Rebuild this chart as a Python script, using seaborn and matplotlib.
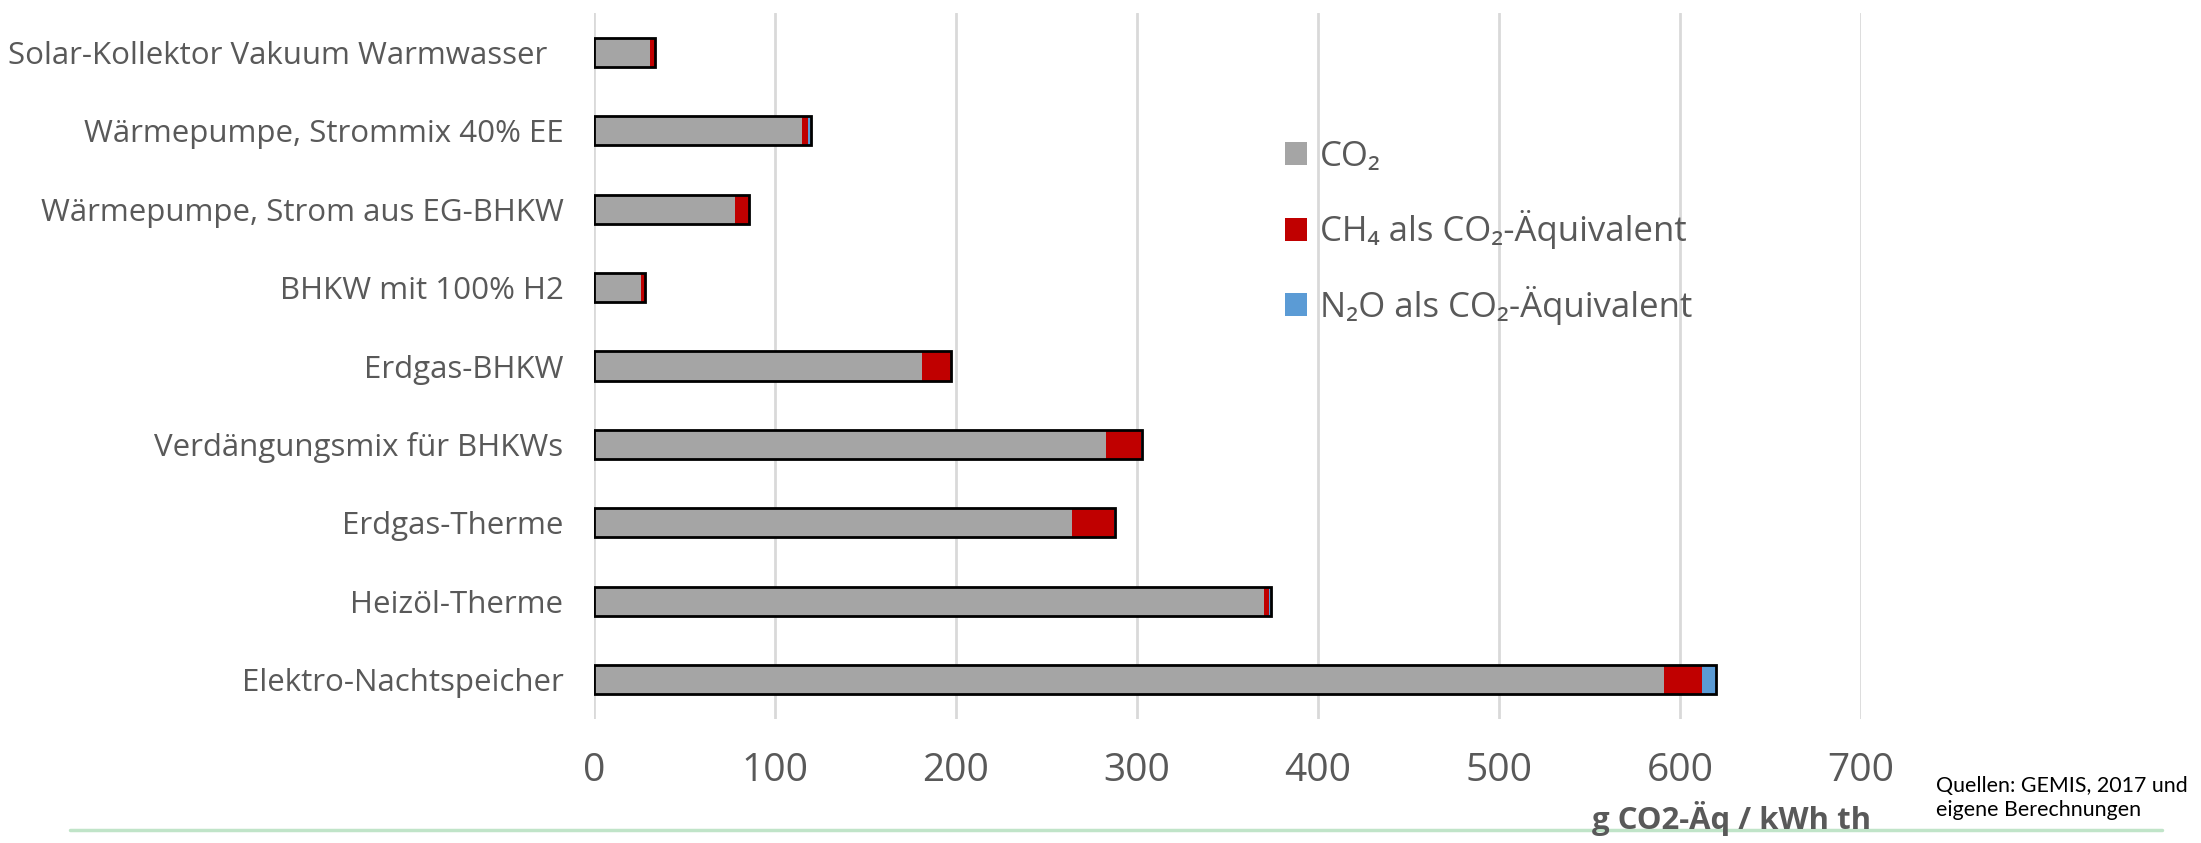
import matplotlib
matplotlib.use("Agg")
import matplotlib.pyplot as plt
import seaborn as sns
import pandas as pd
from matplotlib.patches import Patch

# Data ----------------------------------------------------------------
categories = ["Solar-Kollektor Vakuum Warmwasser  ",
              "Wärmepumpe, Strommix 40% EE",
              "Wärmepumpe, Strom aus EG-BHKW",
              "BHKW mit 100% H2",
              "Erdgas-BHKW",
              "Verdängungsmix für BHKWs",
              "Erdgas-Therme",
              "Heizöl-Therme",
              "Elektro-Nachtspeicher"]
co2 = [31, 115, 78, 26, 181, 283, 264, 370, 591]
ch4 = [2.5, 3, 7.5, 2, 16, 19, 23.5, 3, 21]
n2o = [0.3, 2, 0.2, 0.2, 0.3, 1, 0.3, 1, 8]
x_ticks = [0, 100, 200, 300, 400, 500, 600, 700]
legend_labels = ["CO₂", "CH₄ als CO₂-Äquivalent", "N₂O als CO₂-Äquivalent"]
# ---------------------------------------------------------------------

c_co2 = "#a5a5a5"
c_ch4 = "#c00000"
c_n2o = "#5b9bd5"
txt = "#595959"

sns.set_style("white")
plt.rcParams['font.family'] = ['Open Sans', 'Noto Sans', 'DejaVu Sans']

df = pd.DataFrame({"cat": categories, "co2": co2, "ch4": ch4, "n2o": n2o})
df["lvl2"] = df["co2"] + df["ch4"]
df["total"] = df["lvl2"] + df["n2o"]

fig = plt.figure(figsize=(22.01, 8.43), dpi=100)
ax = fig.add_axes([594/2201, 1 - 719/843, (1861-594)/2201, (719-13)/843])

bw = 0.37
# stacked: draw cumulative sums back to front
sns.barplot(data=df, x="total", y="cat", color=c_n2o, width=bw, saturation=1,
            linewidth=0, ax=ax, zorder=3)
sns.barplot(data=df, x="lvl2", y="cat", color=c_ch4, width=bw, saturation=1,
            linewidth=0, ax=ax, zorder=3)
sns.barplot(data=df, x="co2", y="cat", color=c_co2, width=bw, saturation=1,
            linewidth=0, ax=ax, zorder=3)
# black outline round each whole bar
sns.barplot(data=df, x="total", y="cat", color="black", width=bw, fill=False,
            linewidth=2.0, ax=ax, zorder=4)

ax.set_xlim(0, 700)
ax.set_xticks(x_ticks)
ax.set_ylim(len(categories) - 0.5, -0.5)
ax.grid(axis="x", color="#d9d9d9", linewidth=2.0, zorder=0)
ax.grid(axis="y", visible=False)
ax.set_axisbelow(True)
for s in ax.spines.values():
    s.set_visible(False)
ax.tick_params(axis="y", length=0, pad=22, labelsize=22.5, labelcolor=txt)
ax.tick_params(axis="x", length=0, pad=24, labelsize=28, labelcolor=txt)
ax.set_xlabel("")
ax.set_ylabel("")

handles = [Patch(facecolor=c, edgecolor="none") for c in (c_co2, c_ch4, c_n2o)]
leg = ax.legend(handles, legend_labels, loc="upper left",
                bbox_to_anchor=((1271-594)/(1861-594), 1 - (126-13)/(719-13)),
                frameon=False, fontsize=25, labelcolor=txt,
                handlelength=0.65, handleheight=0.65, handletextpad=0.35,
                labelspacing=1.05, borderaxespad=0)

fig.text(1732/2201, 1 - 818/843, "g CO2-Äq / kWh th", ha="center", va="center",
         fontsize=22.4, fontweight="bold", color=txt)
fig.text(1936/2201, 1 - 798/843, "Quellen: GEMIS, 2017 und\neigene Berechnungen",
         ha="left", va="center", fontsize=15.4, color="black", family="Lato",
         linespacing=1.25)

# thin green rule along the bottom
fig.add_artist(plt.Line2D([70/2201, 2162/2201], [1 - 830/843, 1 - 830/843],
                          color="#c0e4c8", linewidth=2.5))

fig.savefig("out.png", dpi=100)
